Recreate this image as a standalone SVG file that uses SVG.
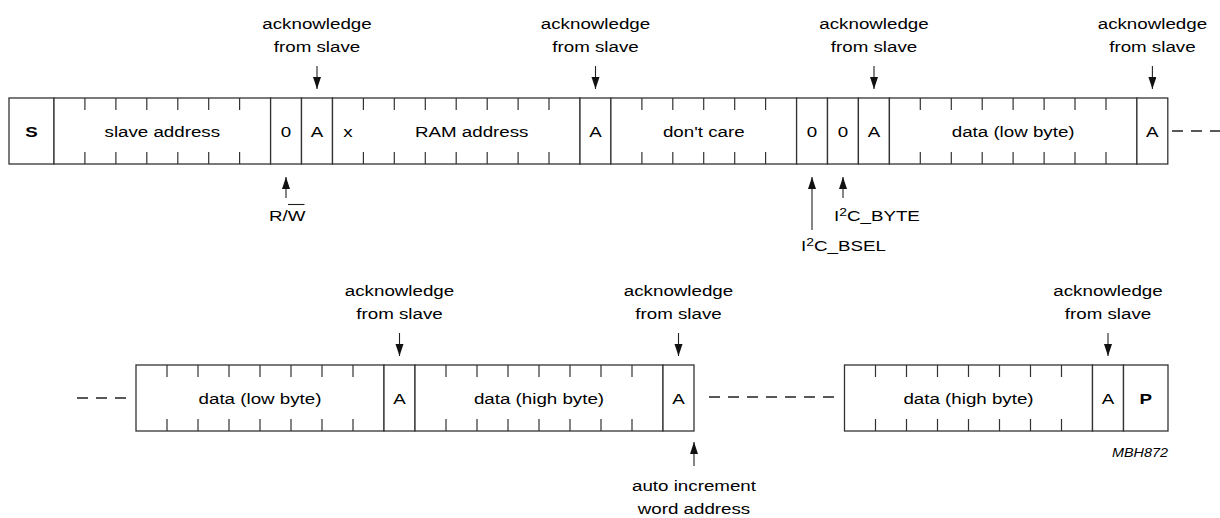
<svg xmlns="http://www.w3.org/2000/svg" width="1220" height="518" viewBox="0 0 1220 518">
<style>
rect{fill:#fff;stroke:#333;stroke-width:1.3}
.tk{fill:none;stroke:#333;stroke-width:1.2}
text{font-family:"Liberation Sans",Arial,Helvetica,sans-serif;font-size:15.5px;fill:#000;text-anchor:middle}
.b{font-weight:bold}
.s{text-anchor:start}
.m{font-size:12px;font-style:italic;text-anchor:end}
.dash{stroke:#222;stroke-width:1.4;stroke-dasharray:11 8;fill:none}
.ar{stroke:#222;stroke-width:1.1;fill:none;marker-end:url(#ah)}
.ol{stroke:#222;stroke-width:1.1}
</style>
<defs>
<marker id="ah" markerUnits="userSpaceOnUse" markerWidth="13" markerHeight="9" refX="12" refY="4" orient="auto">
<path d="M0,0L12,4L0,8z" fill="#111"/>
</marker>
</defs>
<rect x="0" y="0" width="1220" height="518" style="stroke:none"/>

<!-- top row -->
<g id="f-start"><rect x="9" y="98" width="45" height="66"/><text class="b" transform="translate(31.5,137) scale(1.21,1)">S</text></g>
<g id="f-slave-address"><rect x="54" y="98" width="216.6" height="66"/>
<path class="tk" d="M84.9,98v12M84.9,152v12M115.9,98v12M115.9,152v12M146.8,98v12M146.8,152v12M177.8,98v12M177.8,152v12M208.7,98v12M208.7,152v12M239.6,98v12M239.6,152v12"/>
<text transform="translate(162.3,137) scale(1.21,1)">slave address</text></g>
<g id="f-rw"><rect x="270.6" y="98" width="30.9" height="66"/><text transform="translate(286.05,137) scale(1.21,1)">0</text></g>
<g id="f-ack1"><rect x="301.5" y="98" width="31" height="66"/><text transform="translate(317,137) scale(1.21,1)">A</text></g>
<g id="f-ram-address"><rect x="332.5" y="98" width="247.5" height="66"/>
<path class="tk" d="M363.4,98v12M363.4,152v12M394.3,98v12M394.3,152v12M425.3,98v12M425.3,152v12M456.2,98v12M456.2,152v12M487.2,98v12M487.2,152v12M518.1,98v12M518.1,152v12M549,98v12M549,152v12"/>
<text transform="translate(348,137) scale(1.21,1)">x</text>
<text transform="translate(471.7,137) scale(1.21,1)">RAM address</text></g>
<g id="f-ack2"><rect x="580" y="98" width="30.9" height="66"/><text transform="translate(595.45,137) scale(1.21,1)">A</text></g>
<g id="f-dont-care"><rect x="610.9" y="98" width="185.7" height="66"/>
<path class="tk" d="M641.9,98v12M641.9,152v12M672.8,98v12M672.8,152v12M703.7,98v12M703.7,152v12M734.7,98v12M734.7,152v12M765.6,98v12M765.6,152v12"/>
<text transform="translate(703.75,137) scale(1.21,1)">don't care</text></g>
<g id="f-bsel"><rect x="796.6" y="98" width="30.9" height="66"/><text transform="translate(812.05,137) scale(1.21,1)">0</text></g>
<g id="f-byte"><rect x="827.5" y="98" width="30.9" height="66"/><text transform="translate(842.95,137) scale(1.21,1)">0</text></g>
<g id="f-ack3"><rect x="858.4" y="98" width="31" height="66"/><text transform="translate(873.9,137) scale(1.21,1)">A</text></g>
<g id="f-data-low-1"><rect x="889.4" y="98" width="247.5" height="66"/>
<path class="tk" d="M920.3,98v12M920.3,152v12M951.3,98v12M951.3,152v12M982.2,98v12M982.2,152v12M1013.1,98v12M1013.1,152v12M1044.1,98v12M1044.1,152v12M1075,98v12M1075,152v12M1106,98v12M1106,152v12"/>
<text transform="translate(1013.15,137) scale(1.21,1)">data (low byte)</text></g>
<g id="f-ack4"><rect x="1136.9" y="98" width="30.9" height="66"/><text transform="translate(1152.35,137) scale(1.21,1)">A</text></g>

<!-- bottom row -->
<g id="f-data-low-2"><rect x="136" y="365" width="248" height="66"/>
<path class="tk" d="M167,365v12M167,419v12M198,365v12M198,419v12M229,365v12M229,419v12M260,365v12M260,419v12M291,365v12M291,419v12M322,365v12M322,419v12M353,365v12M353,419v12"/>
<text transform="translate(260,404) scale(1.21,1)">data (low byte)</text></g>
<g id="f-ack5"><rect x="384" y="365" width="31" height="66"/><text transform="translate(399.5,404) scale(1.21,1)">A</text></g>
<g id="f-data-high-1"><rect x="415" y="365" width="248" height="66"/>
<path class="tk" d="M446,365v12M446,419v12M477,365v12M477,419v12M508,365v12M508,419v12M539,365v12M539,419v12M570,365v12M570,419v12M601,365v12M601,419v12M632,365v12M632,419v12"/>
<text transform="translate(539,404) scale(1.21,1)">data (high byte)</text></g>
<g id="f-ack6"><rect x="663" y="365" width="31" height="66"/><text transform="translate(678.5,404) scale(1.21,1)">A</text></g>
<g id="f-data-high-2"><rect x="844.5" y="365" width="248" height="66"/>
<path class="tk" d="M875.5,365v12M875.5,419v12M906.5,365v12M906.5,419v12M937.5,365v12M937.5,419v12M968.5,365v12M968.5,419v12M999.5,365v12M999.5,419v12M1030.5,365v12M1030.5,419v12M1061.5,365v12M1061.5,419v12"/>
<text transform="translate(968.5,404) scale(1.21,1)">data (high byte)</text></g>
<g id="f-ack7"><rect x="1092.5" y="365" width="31" height="66"/><text transform="translate(1108,404) scale(1.21,1)">A</text></g>
<g id="f-stop"><rect x="1123.5" y="365" width="44.5" height="66"/><text class="b" transform="translate(1145.75,404) scale(1.21,1)">P</text></g>

<!-- labels -->
<g id="lbl-ack1"><text transform="translate(317,28.5) scale(1.21,1)">acknowledge</text><text transform="translate(317,51.5) scale(1.21,1)">from slave</text></g>
<g id="lbl-ack2"><text transform="translate(595.5,28.5) scale(1.21,1)">acknowledge</text><text transform="translate(595.5,51.5) scale(1.21,1)">from slave</text></g>
<g id="lbl-ack3"><text transform="translate(874,28.5) scale(1.21,1)">acknowledge</text><text transform="translate(874,51.5) scale(1.21,1)">from slave</text></g>
<g id="lbl-ack4"><text transform="translate(1152.4,28.5) scale(1.21,1)">acknowledge</text><text transform="translate(1152.4,51.5) scale(1.21,1)">from slave</text></g>
<g id="lbl-ack5"><text transform="translate(399.5,295.5) scale(1.21,1)">acknowledge</text><text transform="translate(399.5,318.5) scale(1.21,1)">from slave</text></g>
<g id="lbl-ack6"><text transform="translate(678.5,295.5) scale(1.21,1)">acknowledge</text><text transform="translate(678.5,318.5) scale(1.21,1)">from slave</text></g>
<g id="lbl-ack7"><text transform="translate(1108,295.5) scale(1.21,1)">acknowledge</text><text transform="translate(1108,318.5) scale(1.21,1)">from slave</text></g>
<g id="lbl-rw"><text class="s" transform="translate(269,221) scale(1.21,1)">R/W</text><line class="ol" x1="288" y1="204.5" x2="304.5" y2="204.5"/></g>
<g id="lbl-byte"><text class="s" transform="translate(834,220.5) scale(1.21,1)">I<tspan font-size="11.5" dy="-5">2</tspan><tspan dy="5">C_BYTE</tspan></text></g>
<g id="lbl-bsel"><text class="s" transform="translate(801,251) scale(1.21,1)">I<tspan font-size="11.5" dy="-5">2</tspan><tspan dy="5">C_BSEL</tspan></text></g>
<g id="lbl-auto"><text transform="translate(694,491) scale(1.21,1)">auto increment</text><text transform="translate(694,514) scale(1.21,1)">word address</text></g>
<g id="lbl-code"><text class="m" transform="translate(1168,456.5) scale(1.2,1)">MBH872</text></g>

<!-- connectors -->
<g id="connectors">
<path class="ar" d="M317,66V89"/>
<path class="ar" d="M595.5,66V89"/>
<path class="ar" d="M874,66V89"/>
<path class="ar" d="M1152.4,66V89"/>
<path class="ar" d="M399.5,333V356"/>
<path class="ar" d="M678.5,333V356"/>
<path class="ar" d="M1108,333V356"/>
<path class="ar" d="M286,198V177"/>
<path class="ar" d="M812,230V177"/>
<path class="ar" d="M843,198V177"/>
<path class="ar" d="M694,466V442"/>
<path class="dash" d="M1172,131H1221"/>
<path class="dash" d="M77,398H126"/>
<path class="dash" d="M709,397H835"/>
</g>
</svg>
